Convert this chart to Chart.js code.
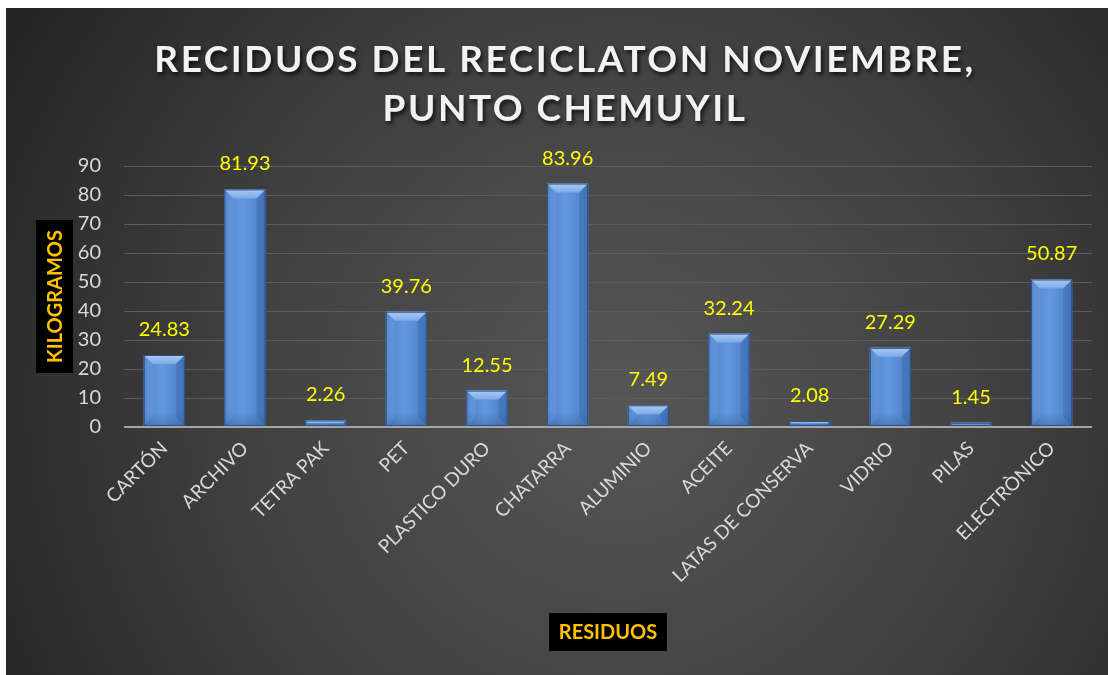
<!DOCTYPE html>
<html>
<head>
<meta charset="utf-8">
<script src="https://cdn.jsdelivr.net/npm/chart.js@4/dist/chart.umd.min.js"></script>
<style>
html,body{margin:0;padding:0;background:#fff;}
#wrap{width:1108px;height:675px;position:relative;}
</style>
</head>
<body>
<div id="wrap"><canvas id="c" width="1108" height="675"></canvas></div>
<script>
const categories = ["CARTÓN","ARCHIVO","TETRA PAK","PET","PLASTICO DURO","CHATARRA","ALUMINIO","ACEITE","LATAS DE CONSERVA","VIDRIO","PILAS","ELECTRÒNICO"];
const kilogramos = [24.83, 81.93, 2.26, 39.76, 12.55, 83.96, 7.49, 32.24, 2.08, 27.29, 1.45, 50.87];
const titleLines = ["RECIDUOS DEL RECICLATON NOVIEMBRE,", "PUNTO CHEMUYIL"];
const yAxisTitle = "KILOGRAMOS";
const xAxisTitle = "RESIDUOS";
const yMin = 0, yMax = 90, yStep = 10;

const FONT = "Lato, 'Open Sans', sans-serif";

const bgPlugin = {
  id: 'bg',
  beforeDraw(chart) {
    const ctx = chart.ctx;
    ctx.save();
    ctx.fillStyle = '#ffffff';
    ctx.fillRect(0, 0, chart.width, chart.height);
    const g = ctx.createRadialGradient(620, 400, 0, 620, 400, 700);
    g.addColorStop(0, '#565656');
    g.addColorStop(0.55, '#404040');
    g.addColorStop(1, '#252525');
    ctx.fillStyle = g;
    ctx.fillRect(6, 8, chart.width - 6, chart.height - 8);
    ctx.restore();
  },
  afterDatasetsDraw(chart) {
    const ctx = chart.ctx;
    const meta = chart.getDatasetMeta(0);
    ctx.save();
    meta.data.forEach((bar, i) => {
      const l = bar.x - bar.width / 2, r = bar.x + bar.width / 2;
      const t = bar.y, b = bar.base;
      const h = b - t;
      const bv = Math.min(9, h / 2);
      // horizontal sheen
      let hg = ctx.createLinearGradient(l, 0, r, 0);
      hg.addColorStop(0, '#4f84cc');
      hg.addColorStop(0.45, '#6398de');
      hg.addColorStop(1, '#4a7dc4');
      ctx.fillStyle = hg;
      ctx.fillRect(l, t, r - l, h);
      // bottom darkening
      let vg = ctx.createLinearGradient(0, b - 14, 0, b);
      vg.addColorStop(0, 'rgba(40,80,140,0)');
      vg.addColorStop(1, 'rgba(40,80,140,0.35)');
      ctx.fillStyle = vg;
      ctx.fillRect(l, Math.max(t, b - 14), r - l, Math.min(14, h));
      // top bevel
      let g = ctx.createLinearGradient(0, t, 0, t + bv);
      g.addColorStop(0, '#a9cbf3');
      g.addColorStop(1, '#7eaae6');
      ctx.fillStyle = g;
      ctx.beginPath();
      ctx.moveTo(l, t); ctx.lineTo(r, t); ctx.lineTo(r - bv, t + bv); ctx.lineTo(l + bv, t + bv); ctx.closePath();
      ctx.fill();
      // subtle side bevels
      ctx.fillStyle = 'rgba(140,180,235,0.18)';
      ctx.beginPath();
      ctx.moveTo(l, t); ctx.lineTo(l + bv, t + bv); ctx.lineTo(l + bv, b - bv); ctx.lineTo(l, b); ctx.closePath();
      ctx.fill();
      ctx.fillStyle = 'rgba(30,70,130,0.2)';
      ctx.beginPath();
      ctx.moveTo(r, t); ctx.lineTo(r - bv, t + bv); ctx.lineTo(r - bv, b - bv); ctx.lineTo(r, b); ctx.closePath();
      ctx.fill();
      // outline
      ctx.strokeStyle = '#2a4f82';
      ctx.lineWidth = 1;
      ctx.strokeRect(l + 0.5, t + 0.5, r - l - 1, h - 1);
      // data label
      ctx.fillStyle = '#ffff00';
      ctx.font = '20px ' + FONT;
      ctx.textAlign = 'center';
      ctx.textBaseline = 'alphabetic';
      ctx.fillText(kilogramos[i].toFixed(2), bar.x, t - 19);
    });
    ctx.restore();
  },
  afterDraw(chart) {
    const ctx = chart.ctx;
    ctx.save();
    // Title
    ctx.font = 'bold 37px ' + FONT;
    ctx.letterSpacing = '2.5px';
    ctx.textAlign = 'center';
    ctx.textBaseline = 'alphabetic';
    ctx.shadowColor = 'rgba(0,0,0,0.75)';
    ctx.shadowBlur = 4;
    ctx.shadowOffsetX = 2;
    ctx.shadowOffsetY = 3;
    ctx.fillStyle = '#f2f2f2';
    ctx.fillText(titleLines[0], 565, 72);
    ctx.fillText(titleLines[1], 565, 121);
    ctx.restore();

    ctx.save();
    // Y axis title
    ctx.fillStyle = '#000000';
    ctx.fillRect(36, 220, 37, 153);
    ctx.translate(55, 296.5);
    ctx.rotate(-Math.PI / 2);
    ctx.font = 'bold 20px ' + FONT;
    ctx.fillStyle = '#ffc000';
    ctx.textAlign = 'center';
    ctx.textBaseline = 'middle';
    ctx.fillText(yAxisTitle, 0, 1);
    ctx.restore();

    ctx.save();
    // X axis title
    ctx.fillStyle = '#000000';
    ctx.fillRect(549, 613, 118, 38);
    ctx.font = 'bold 20px ' + FONT;
    ctx.fillStyle = '#ffc000';
    ctx.textAlign = 'center';
    ctx.textBaseline = 'middle';
    ctx.fillText(xAxisTitle, 608, 633);
    ctx.restore();
  }
};

new Chart(document.getElementById('c'), {
  type: 'bar',
  data: {
    labels: categories,
    datasets: [{
      data: kilogramos,
      backgroundColor: '#5a8ed6',
      borderWidth: 0,
      categoryPercentage: 1,
      barPercentage: 0.51
    }]
  },
  options: {
    responsive: false,
    animation: false,
    devicePixelRatio: 1,
    layout: { padding: { left: 0, top: 166, right: 16, bottom: 0 } },
    plugins: { legend: { display: false }, title: { display: false }, tooltip: { enabled: false } },
    scales: {
      x: {
        grid: { display: false, drawTicks: false },
        border: { display: false },
        ticks: {
          color: '#d9d9d9',
          font: { family: FONT, size: 19 },
          minRotation: 45, maxRotation: 45,
          padding: 10,
          autoSkip: false
        },
        afterFit(s) { s.height = 248; }
      },
      y: {
        min: yMin, max: yMax,
        grid: {
          drawTicks: false,
          color: (c) => c.tick && c.tick.value === 0 ? '#a6a6a6' : '#5c5c5c',
          lineWidth: (c) => c.tick && c.tick.value === 0 ? 2 : 1
        },
        border: { display: false },
        ticks: {
          stepSize: yStep,
          color: '#d9d9d9',
          font: { family: FONT, size: 20 },
          padding: 23
        },
        afterFit(s) { s.width = 124; }
      }
    }
  },
  plugins: [bgPlugin]
});
</script>
</body>
</html>
